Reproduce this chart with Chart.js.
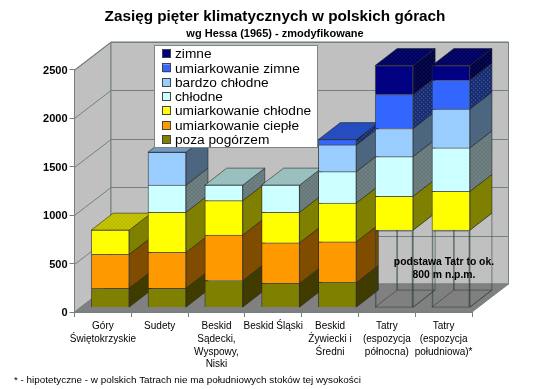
<!DOCTYPE html>
<html>
<head>
<meta charset="utf-8">
<script src="https://cdn.jsdelivr.net/npm/chart.js@4"></script>
<style>
html, body { margin: 0; padding: 0; background: #fff; }
canvas { display: block; }
</style>
</head>
<body>
<canvas id="chart" width="550" height="389"></canvas>
<script>
var categories = [
    ['Góry', 'Świętokrzyskie'],
    'Sudety',
    ['Beskid', 'Sądecki,', 'Wyspowy,', 'Niski'],
    'Beskid Śląski',
    ['Beskid', 'Żywiecki i', 'Średni'],
    ['Tatry', '(espozycja', 'północna)'],
    ['Tatry', '(espozycja', 'południowa)*']
];

var podstawa = [null, null, null, null, null, 800, 800];
var pozaPogorzem = [200, 200, 280, 250, 260, null, null];
var umiarkowanieCieple = [350, 370, 470, 420, 420, null, null];
var umiarkowanieChlodne = [250, 415, 355, 315, 400, 350, 400];
var chlodne = [null, 280, 160, 280, 325, 410, 450];
var bardzoChlodne = [null, 340, null, null, 275, 290, 400];
var umiarkowanieZimne = [null, null, null, null, 55, 350, 300];
var zimne = [null, null, null, null, null, 300, 150];

var yTicks = [0, 500, 1000, 1500, 2000, 2500];

// 3d look of the old spreadsheet chart, all in pixels
var WALL_DX = 36.5;
var WALL_DY = 28;
var BAR_DX = 7.3;
var BAR_DY = 4.4;
var DEPTH_DX = 22;
var DEPTH_DY = 17;
var FONT = '"Liberation Sans", Arial, sans-serif';

function dotted(base, dot) {
    var c = document.createElement('canvas');
    c.width = 4;
    c.height = 4;
    var g = c.getContext('2d');
    g.fillStyle = base;
    g.fillRect(0, 0, 4, 4);
    g.fillStyle = dot;
    g.fillRect(0, 0, 1, 1);
    g.fillRect(2, 2, 1, 1);
    return g.createPattern(c, 'repeat');
}

var series = [
    { label: 'poza pogórzem', data: pozaPogorzem, front: '#808000', side: '#403c00', top: '#606000' },
    { label: 'umiarkowanie ciepłe', data: umiarkowanieCieple, front: '#ff9900', side: '#804d00', top: '#bf7300' },
    { label: 'umiarkowanie chłodne', data: umiarkowanieChlodne, front: '#ffff00', side: '#808000', top: dotted('#c4c400', '#a8a800') },
    { label: 'chłodne', data: chlodne, front: '#ccffff', side: dotted('#66787a', '#8a9c9e'), top: '#99bfbf' },
    { label: 'bardzo chłodne', data: bardzoChlodne, front: '#99ccff', side: '#4d6680', top: '#7399bf' },
    { label: 'umiarkowanie zimne', data: umiarkowanieZimne, front: '#3366ff', side: dotted('#14286e', '#6a8ac0'), top: '#264dbf' },
    { label: 'zimne', data: zimne, front: '#000080', side: dotted('#000040', '#203080'), top: dotted('#000060', '#18288a') }
];

var datasets = [{
    label: 'podstawa',
    data: podstawa,
    backgroundColor: 'rgba(0,0,0,0)',
    borderColor: 'rgba(40,60,60,0.55)',
    borderWidth: 1,
    barThickness: 38,
    clip: false
}].concat(series.map(function(s) {
    return {
        label: s.label,
        data: s.data,
        backgroundColor: s.front,
        borderColor: 'rgba(40,40,40,0.7)',
        borderWidth: 1,
        barThickness: 38,
        clip: false
    };
}));

function poly(ctx, pts, fill, stroke) {
    ctx.beginPath();
    ctx.moveTo(pts[0][0], pts[0][1]);
    for (var i = 1; i < pts.length; i++) {
        ctx.lineTo(pts[i][0], pts[i][1]);
    }
    ctx.closePath();
    if (fill) {
        ctx.fillStyle = fill;
        ctx.fill();
    }
    if (stroke) {
        ctx.strokeStyle = stroke;
        ctx.lineWidth = 1;
        ctx.stroke();
    }
}

var walls = {
    id: 'walls',
    beforeDraw: function(chart) {
        var ctx = chart.ctx;
        var a = chart.chartArea;
        var y = chart.scales.y;
        var edge = '#758080';
        ctx.save();
        poly(ctx, [[a.left, a.top], [a.left + WALL_DX, a.top - WALL_DY], [a.left + WALL_DX, a.bottom - WALL_DY], [a.left, a.bottom]], '#c0c0c0', edge);
        poly(ctx, [[a.left + WALL_DX, a.top - WALL_DY], [a.right + WALL_DX, a.top - WALL_DY], [a.right + WALL_DX, a.bottom - WALL_DY], [a.left + WALL_DX, a.bottom - WALL_DY]], '#c0c0c0', edge);
        poly(ctx, [[a.left, a.bottom], [a.right, a.bottom], [a.right + WALL_DX, a.bottom - WALL_DY], [a.left + WALL_DX, a.bottom - WALL_DY]], '#808080', edge);
        ctx.strokeStyle = edge;
        ctx.lineWidth = 1;
        yTicks.forEach(function(v) {
            if (v === 0) {
                return;
            }
            var py = Math.round(y.getPixelForValue(v)) + 0.5;
            ctx.beginPath();
            ctx.moveTo(a.left, py);
            ctx.lineTo(a.left + WALL_DX, py - WALL_DY);
            ctx.lineTo(a.right + WALL_DX, py - WALL_DY);
            ctx.stroke();
        });
        ctx.restore();
    }
};

var bars3d = {
    id: 'bars3d',
    beforeDatasetsDraw: function(chart) {
        var ctx = chart.ctx;
        ctx.save();
        ctx.translate(BAR_DX, -BAR_DY);
        for (var j = 0; j < categories.length; j++) {
            var topBar = null;
            var topStyle = null;
            for (var i = 0; i < datasets.length; i++) {
                if (datasets[i].data[j] === null) {
                    continue;
                }
                var bar = chart.getDatasetMeta(i).data[j];
                var right = bar.x + bar.width / 2;
                var side = [[right, bar.y], [right + DEPTH_DX, bar.y - DEPTH_DY], [right + DEPTH_DX, bar.base - DEPTH_DY], [right, bar.base]];
                if (i === 0) {
                    // the empty base under the Tatry only shows its edges
                    var left = bar.x - bar.width / 2;
                    var wire = 'rgba(40,60,60,0.55)';
                    poly(ctx, side, null, wire);
                    poly(ctx, [[left, bar.base], [left + DEPTH_DX, bar.base - DEPTH_DY], [right + DEPTH_DX, bar.base - DEPTH_DY], [right, bar.base]], null, wire);
                    poly(ctx, [[left + DEPTH_DX, bar.y - DEPTH_DY], [left + DEPTH_DX, bar.base - DEPTH_DY]], null, wire);
                    continue;
                }
                poly(ctx, side, series[i - 1].side, 'rgba(30,30,30,0.55)');
                topBar = bar;
                topStyle = series[i - 1].top;
            }
            var l = topBar.x - topBar.width / 2;
            var r = topBar.x + topBar.width / 2;
            poly(ctx, [[l, topBar.y], [l + DEPTH_DX, topBar.y - DEPTH_DY], [r + DEPTH_DX, topBar.y - DEPTH_DY], [r, topBar.y]], topStyle, 'rgba(30,30,30,0.55)');
        }
    },
    afterDatasetsDraw: function(chart) {
        chart.ctx.restore();
    }
};

var notes = {
    id: 'notes',
    afterDraw: function(chart) {
        var ctx = chart.ctx;
        ctx.save();

        // legend box sits on top of everything
        ctx.fillStyle = '#fff';
        ctx.fillRect(154, 45, 164, 103);
        ctx.strokeStyle = '#7a8585';
        ctx.lineWidth = 1;
        ctx.strokeRect(154.5, 45.5, 163, 102);
        ctx.textAlign = 'left';
        ctx.textBaseline = 'middle';
        ctx.font = '13.7px ' + FONT;
        series.slice().reverse().forEach(function(s, i) {
            var py = 54 + i * 14.3;
            ctx.fillStyle = s.front;
            ctx.fillRect(163, py - 4, 8, 8);
            ctx.strokeStyle = '#444';
            ctx.strokeRect(162.5, Math.round(py - 4) - 0.5, 8, 8);
            ctx.fillStyle = '#000';
            ctx.fillText(s.label, 175, py + 0.5);
        });

        ctx.textAlign = 'center';
        ctx.font = 'bold 10.4px ' + FONT;
        ctx.fillText('podstawa Tatr to ok.', 444, 262.5);
        ctx.fillText('800 m n.p.m.', 444, 275.5);

        ctx.textAlign = 'left';
        ctx.font = '9.9px ' + FONT;
        ctx.fillText('* - hipotetyczne - w polskich Tatrach nie ma południowych stoków tej wysokości', 14, 380.5);
        ctx.restore();
    }
};

var chart = new Chart(document.getElementById('chart'), {
    type: 'bar',
    data: {
        labels: categories,
        datasets: datasets
    },
    plugins: [walls, bars3d, notes],
    options: {
        responsive: false,
        animation: false,
        plugins: {
            legend: { display: false },
            tooltip: { enabled: false },
            title: {
                display: true,
                text: 'Zasięg pięter klimatycznych w polskich górach',
                color: '#000',
                font: { family: FONT, size: 15.3, weight: 'bold' },
                padding: { top: 8, bottom: 1 }
            },
            subtitle: {
                display: true,
                text: 'wg Hessa (1965) - zmodyfikowane',
                color: '#000',
                font: { family: FONT, size: 11, weight: 'bold' },
                padding: { top: 0, bottom: 29.4 }
            }
        },
        scales: {
            x: {
                stacked: true,
                grid: { drawOnChartArea: false, offset: true, tickLength: 5, color: '#758080' },
                border: { color: '#758080' },
                ticks: {
                    autoSkip: false,
                    maxRotation: 0,
                    minRotation: 0,
                    color: '#000',
                    padding: 3,
                    font: { family: FONT, size: 10, lineHeight: 1.27 }
                },
                afterFit: function(scale) {
                    scale.height = 77;
                }
            },
            y: {
                stacked: true,
                min: 0,
                max: 2500,
                grid: { drawOnChartArea: false, tickLength: 5, color: '#758080' },
                border: { color: '#758080' },
                ticks: {
                    stepSize: 500,
                    color: '#000',
                    padding: 2,
                    labelOffset: 1,
                    font: { family: FONT, size: 11, weight: 'bold' },
                    callback: function(value) {
                        return String(value);
                    }
                },
                afterFit: function(scale) {
                    scale.width = 74.5;
                }
            },
            // empty axis, only keeps the room on the right for the back wall
            spacer: {
                axis: 'y',
                position: 'right',
                grid: { display: false },
                border: { display: false },
                ticks: { display: false },
                afterFit: function(scale) {
                    scale.width = 78;
                }
            }
        }
    }
});
</script>
</body>
</html>
